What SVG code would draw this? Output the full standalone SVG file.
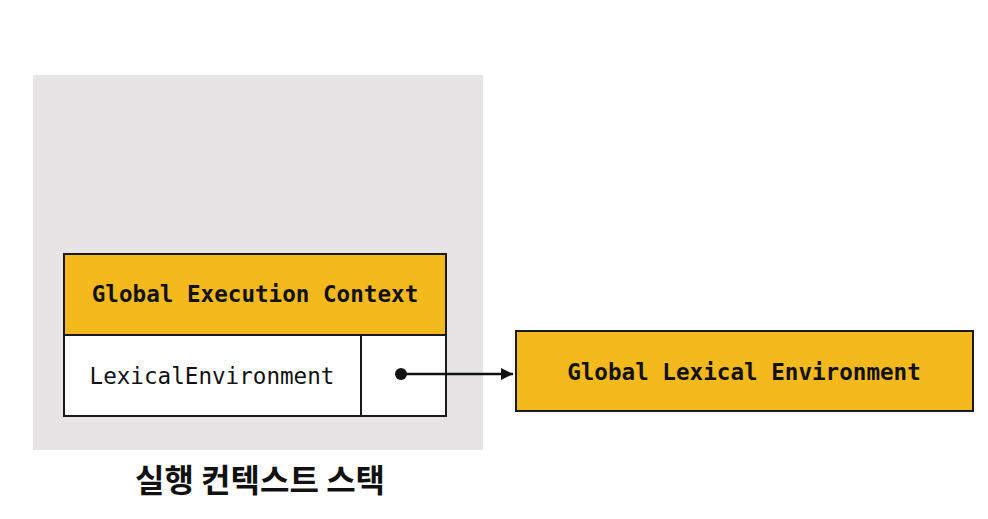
<svg xmlns="http://www.w3.org/2000/svg" width="988" height="519" viewBox="0 0 988 519">
<defs>
<style>
.box{stroke:#1a1a1a;stroke-width:2}
.y{fill:#F3B91D}
.w{fill:#FFFFFF}
.mono{font-family:"DejaVu Sans Mono","Liberation Mono",monospace;font-size:22.6px;fill:#111}
.b{font-weight:bold}
.kr{font-family:"Noto Sans CJK KR","Noto Sans",sans-serif;font-size:32px;font-weight:bold;fill:#111}
</style>
<marker id="ah" viewBox="0 0 12 12" refX="12" refY="6" markerWidth="12" markerHeight="12" markerUnits="userSpaceOnUse" orient="auto">
<path d="M0,0 L12,6 L0,12 Z" fill="#111"/>
</marker>
</defs>
<rect width="988" height="519" fill="#FFFFFF"/>
<g id="stack">
<rect x="33" y="75" width="450" height="375" fill="#E6E4E5"/>
<text class="kr" x="260" y="492" text-anchor="middle">실행 컨텍스트 스택</text>
</g>
<g id="gec">
<rect class="box y" x="64" y="254" width="382" height="81"/>
<text class="mono b" x="255" y="302" text-anchor="middle">Global Execution Context</text>
</g>
<g id="lexenv">
<rect class="box w" x="64" y="335" width="297" height="81"/>
<text class="mono" x="212" y="384" text-anchor="middle">LexicalEnvironment</text>
</g>
<g id="lexref">
<rect class="box w" x="361" y="335" width="85" height="81"/>
</g>
<g id="gle">
<rect class="box y" x="516" y="331" width="457" height="80"/>
<text class="mono b" x="744" y="380" text-anchor="middle">Global Lexical Environment</text>
</g>
<g id="connectors">
<circle cx="401" cy="374" r="6" fill="#111"/>
<line x1="401" y1="374" x2="513" y2="374" stroke="#111" stroke-width="2.5" marker-end="url(#ah)"/>
</g>
</svg>
